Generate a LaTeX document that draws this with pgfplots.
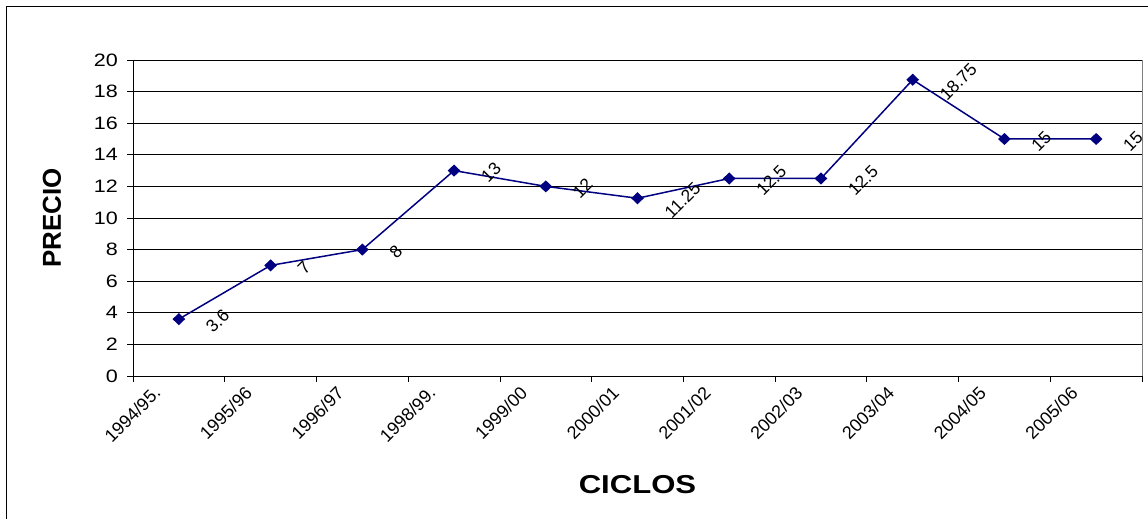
\documentclass[border=0pt]{standalone}
\usepackage{fontspec}
\setmainfont{Liberation Sans}
\newfontfamily\widefont[FakeStretch=1.2]{Liberation Sans}
\usepackage{pgfplots}
\pgfplotsset{compat=1.18}
\definecolor{navyline}{RGB}{0,0,128}
\begin{document}
\begin{tikzpicture}[x=1bp,y=1bp]
\useasboundingbox (0,0) rectangle (1148,519);
\draw[line width=1bp] (6,0) -- (6,512) -- (1148,512);
\begin{axis}[
  at={(133bp,143bp)}, anchor=south west,
  scale only axis, width=1009bp, height=316bp,
  xmin=0, xmax=11, ymin=0, ymax=20,
  axis x line=bottom, axis y line=left,
  axis line style={-, black, line width=0.8bp},
  clip=false,
  tick align=outside,
  major tick length=6bp,
  tick style={black, line width=0.8bp},
  xtick={0,1,...,11}, xticklabels={,,,,,,,,,,,},
  extra x ticks={0.5,1.5,...,10.5},
  extra x tick labels={{\rotatebox{45}{1994/95.}},{\rotatebox{45}{1995/96}},{\rotatebox{45}{1996/97}},{\rotatebox{45}{1998/99.}},{\rotatebox{45}{1999/00}},{\rotatebox{45}{2000/01}},{\rotatebox{45}{2001/02}},{\rotatebox{45}{2002/03}},{\rotatebox{45}{2003/04}},{\rotatebox{45}{2004/05}},{\rotatebox{45}{2005/06}}},
  extra x tick style={major tick length=0pt, grid=none,
    xticklabel style={anchor=north east, inner sep=0pt, xshift=-17bp, yshift=-9bp, font=\fontsize{18}{18}\selectfont}},
  ytick={0,2,...,20},
  ymajorgrids, grid style={black, line width=0.6bp},
  yticklabel style={/pgf/number format/assume math mode=true, font=\widefont\fontsize{18}{18}\selectfont, anchor=east, inner sep=0pt, xshift=-9bp},
  xlabel={CICLOS},
  xlabel style={font=\widefont\bfseries\fontsize{26}{26}\selectfont, at={(axis description cs:0.5,0)}, anchor=center, yshift=-109bp},
  ylabel={PRECIO},
  ylabel style={font=\bfseries\fontsize{26}{26}\selectfont, at={(axis description cs:-0.0803,0.5)}, anchor=center},
]
\draw[gray, line width=0.8bp] (rel axis cs:1,0) -- (rel axis cs:1,1);
\addplot[navyline, line width=1.5bp, mark=diamond*, mark size=5bp,
  mark options={xscale=1.4, fill=navyline, draw=navyline},
  point meta=explicit symbolic,
  nodes near coords={\rotatebox{45}{\pgfplotspointmeta}},
  every node near coord/.append style={anchor=west, inner sep=0pt, xshift=25bp, yshift=-2bp, font=\fontsize{17.5}{17.5}\selectfont, text=black}]
table[meta=lab] {
x y lab
0.5 3.6 3.6
1.5 7 7
2.5 8 8
3.5 13 13
4.5 12 12
5.5 11.25 11.25
6.5 12.5 12.5
7.5 12.5 12.5
8.5 18.75 18.75
9.5 15 15
10.5 15 15
};
\end{axis}
\end{tikzpicture}
\end{document}
